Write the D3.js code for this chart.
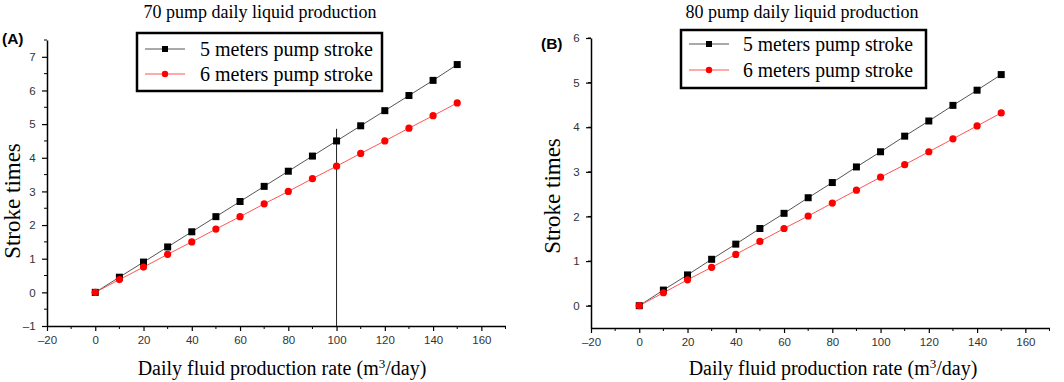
<!DOCTYPE html>
<html><head><meta charset="utf-8">
<script src="https://cdn.jsdelivr.net/npm/d3@7"></script>
<style>body{margin:0;background:#fff}svg{display:block}</style>
</head><body>
<svg id="c" width="1064" height="382"></svg>
<script>
const xs = [0,10,20,30,40,50,60,70,80,90,100,110,120,130,140,150];
const a5 = [0,0.45,0.9,1.35,1.8,2.25,2.7,3.15,3.6,4.05,4.5,4.95,5.4,5.85,6.3,6.77];
const a6 = [0,0.38,0.75,1.13,1.5,1.88,2.25,2.63,3.0,3.38,3.75,4.13,4.5,4.88,5.25,5.63];
const b5 = [0,0.35,0.69,1.04,1.38,1.73,2.07,2.42,2.76,3.11,3.45,3.8,4.14,4.49,4.83,5.18];
const b6 = [0,0.29,0.58,0.86,1.15,1.44,1.73,2.01,2.3,2.59,2.88,3.16,3.45,3.74,4.03,4.32];
const xTicks = [-20,0,20,40,60,80,100,120,140,160];
const yTicksA = [-1,0,1,2,3,4,5,6,7];
const yTicksB = [0,1,2,3,4,5,6];
const seriesNames = ["5 meters pump stroke","6 meters pump stroke"];
const titles = ["70 pump daily liquid production","80 pump daily liquid production"];

const svg = d3.select("#c");
const serif = "'Liberation Serif','Times New Roman',serif";
const sans = "'Liberation Sans',Arial,sans-serif";

function panel(cfg){
  const g = svg.append("g");
  const x = d3.scaleLinear().domain([-20,170]).range([cfg.x0, cfg.x0 + 190*2.413]);
  const y = d3.scaleLinear().domain(cfg.yDom).range(cfg.yRange);
  const xMinor = d3.range(-10,171,20);
  const yMinor = d3.range(cfg.yDom[0]+0.5, cfg.yDom[1]+0.01, 1);
  const xa = g.append("g").attr("transform",`translate(0,${cfg.yRange[0]})`)
    .call(d3.axisBottom(x).tickValues(xTicks).tickSize(5).tickSizeOuter(0).tickFormat(d=>d<0?"\u2013"+Math.abs(d):d));
  xa.select(".domain").attr("stroke","#000").attr("stroke-width",1.5);
  xa.selectAll(".tick line").attr("stroke","#000").attr("stroke-width",1.2);
  xa.selectAll("text").attr("font-family",sans).attr("font-size",11.5).attr("fill","#333").attr("dy","0.9em");
  g.append("g").selectAll("line").data(xMinor).join("line")
    .attr("x1",d=>x(d)).attr("x2",d=>x(d)).attr("y1",cfg.yRange[0]).attr("y2",cfg.yRange[0]+3).attr("stroke","#000");
  const ya = g.append("g").attr("transform",`translate(${cfg.x0},0)`)
    .call(d3.axisLeft(y).tickValues(cfg.yTicks).tickSize(5).tickSizeOuter(0).tickFormat(d=>d<0?"\u2013"+Math.abs(d):d));
  ya.select(".domain").attr("stroke","#000").attr("stroke-width",1.5);
  ya.selectAll(".tick line").attr("stroke","#000").attr("stroke-width",1.2);
  ya.selectAll("text").attr("font-family",sans).attr("font-size",11.5).attr("fill","#333").attr("dx","-0.3em");
  g.append("g").selectAll("line").data(yMinor).join("line")
    .attr("x1",cfg.x0-3).attr("x2",cfg.x0).attr("y1",d=>y(d)).attr("y2",d=>y(d)).attr("stroke","#000");

  if(cfg.vline!==undefined){
    g.append("line").attr("x1",x(cfg.vline)).attr("x2",x(cfg.vline))
      .attr("y1",y(cfg.vtop)).attr("y2",cfg.yRange[0]).attr("stroke","#222").attr("stroke-width",1);
  }
  const line = d3.line().x((d,i)=>x(xs[i])).y(d=>y(d));
  g.append("path").datum(cfg.s5).attr("d",line).attr("fill","none").attr("stroke","#555").attr("stroke-width",1);
  g.append("path").datum(cfg.s6).attr("d",line).attr("fill","none").attr("stroke","#f55").attr("stroke-width",1);
  g.append("g").selectAll("rect").data(cfg.s5).join("rect")
    .attr("x",(d,i)=>x(xs[i])-3.5).attr("y",d=>y(d)-3.5).attr("width",7).attr("height",7).attr("fill","#000");
  g.append("g").selectAll("circle").data(cfg.s6).join("circle")
    .attr("cx",(d,i)=>x(xs[i])).attr("cy",d=>y(d)).attr("r",3.6).attr("fill","#f00");

  g.append("text").attr("x",cfg.titleX).attr("y",18).attr("text-anchor","middle")
    .attr("font-family",serif).attr("font-size",18).attr("fill","#000").text(cfg.title);
  g.append("text").attr("x",cfg.labX).attr("y",cfg.labY).attr("font-family",sans).attr("font-weight","bold")
    .attr("font-size",15.5).attr("fill","#000").text(cfg.lab);
  g.append("text").attr("transform",`translate(${cfg.yTitleX},${cfg.yTitleY}) rotate(-90)`).attr("text-anchor","middle")
    .attr("font-family",serif).attr("font-size",23).attr("fill","#000").text("Stroke times");
  const xt = g.append("text").attr("x",cfg.xTitleX).attr("y",375).attr("text-anchor","middle")
    .attr("font-family",serif).attr("font-size",20).attr("fill","#000");
  xt.append("tspan").text("Daily fluid production rate (m");
  xt.append("tspan").attr("dy",-7).attr("font-size",13).text("3");
  xt.append("tspan").attr("dy",7).text("/day)");

  const L = cfg.leg;
  g.append("rect").attr("x",L.x).attr("y",L.y).attr("width",L.w).attr("height",L.h)
    .attr("fill","#fff").attr("stroke","#000").attr("stroke-width",2.5);
  const rows = [{c:"#555",m:"sq"},{c:"#f55",m:"ci"}];
  rows.forEach((r,i)=>{
    const cy = L.y + L.r0 + i*L.dy;
    g.append("line").attr("x1",L.x+8).attr("x2",L.x+48).attr("y1",cy).attr("y2",cy).attr("stroke",r.c).attr("stroke-width",1);
    if(r.m==="sq") g.append("rect").attr("x",L.x+28-3).attr("y",cy-3).attr("width",6).attr("height",6).attr("fill","#000");
    else g.append("circle").attr("cx",L.x+28).attr("cy",cy).attr("r",3.2).attr("fill","#f00");
    g.append("text").attr("x",L.x+L.tx).attr("y",cy).attr("dy","0.35em").attr("font-family",serif)
      .attr("font-size",21).attr("textLength",L.tl).attr("lengthAdjust","spacingAndGlyphs")
      .attr("fill","#000").text(seriesNames[i]);
  });
}

panel({x0:47, yDom:[-1,7.5], yRange:[326,40], yTicks:yTicksA, s5:a5, s6:a6, vline:100, vtop:4.86,
  title:titles[0], titleX:260, lab:"(A)", labX:2, labY:44, yTitleX:20, yTitleY:201, xTitleX:282,
  leg:{x:137,y:33,w:245,h:58,r0:16,dy:25,tx:63,tl:173}});
panel({x0:591, yDom:[-0.5,6], yRange:[328,38], yTicks:yTicksB, s5:b5, s6:b6,
  title:titles[1], titleX:802, lab:"(B)", labX:541, labY:49, yTitleX:560, yTitleY:196, xTitleX:833,
  leg:{x:681,y:30,w:245,h:58,r0:14,dy:26,tx:62,tl:170}});
</script>
</body></html>
